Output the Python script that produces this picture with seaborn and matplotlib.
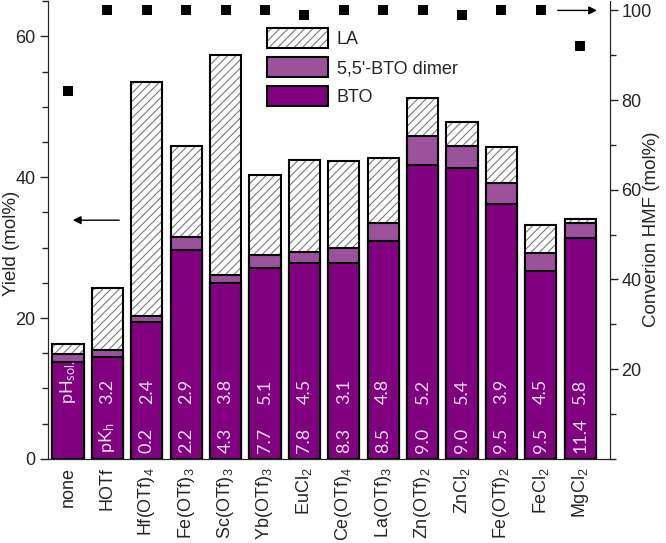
import numpy as np
import pandas as pd
import matplotlib
matplotlib.use('Agg')
import matplotlib.pyplot as plt
from matplotlib.patches import Patch
from matplotlib.ticker import MultipleLocator
import seaborn as sns

# %% data
catalysts = ['none', 'HOTf', 'Hf(OTf)$_4$', 'Fe(OTf)$_3$', 'Sc(OTf)$_3$',
             'Yb(OTf)$_3$', 'EuCl$_2$', 'Ce(OTf)$_4$', 'La(OTf)$_3$',
             'Zn(OTf)$_2$', 'ZnCl$_2$', 'Fe(OTf)$_2$', 'FeCl$_2$', 'MgCl$_2$']
bto = [13.8, 14.5, 19.4, 29.6, 25.0, 27.1, 27.8, 27.8, 30.9, 41.8, 41.3,
       36.2, 26.7, 31.3]
dimer = [1.1, 1.0, 0.9, 1.9, 1.1, 1.8, 1.6, 2.1, 2.6, 4.0, 3.1, 3.0, 2.5, 2.2]
la = [1.4, 8.8, 33.3, 12.9, 31.2, 11.4, 13.0, 12.4, 9.3, 5.5, 3.4, 5.1, 4.0,
      0.5]
conversion = [82, 100, 100, 100, 100, 100, 99, 100, 100, 100, 99, 100, 100, 92]
ph_sol = ['pH$_{sol.}$', '3.2', '2.4', '2.9', '3.8', '5.1', '4.5', '3.1',
          '4.8', '5.2', '5.4', '3.9', '4.5', '5.8']
pkh = ['', 'pK$_h$', '0.2', '2.2', '4.3', '7.7', '7.8', '8.3', '8.5', '9.0',
       '9.0', '9.5', '9.5', '11.4']

df = pd.DataFrame({'cat': catalysts, 'BTO': bto, 'dimer': dimer, 'LA': la,
                   'conv': conversion})
df['bto_dimer'] = df['BTO'] + df['dimer']
df['total'] = df['bto_dimer'] + df['LA']
df['pos'] = np.arange(len(df))

# %% style
sns.set_style('ticks')
plt.rcParams['font.family'] = ['Liberation Sans', 'DejaVu Sans']
plt.rcParams['mathtext.default'] = 'regular'
plt.rcParams['hatch.linewidth'] = 0.8

purple = '#800080'
light_purple = '#9c519c'
hatch_grey = '#7a7a7a'

fig, ax = plt.subplots(figsize=(6.66, 5.43), dpi=100)
fig.subplots_adjust(left=0.072, right=0.916, bottom=0.155, top=0.999)

bar_kw = dict(width=0.79, ax=ax, order=catalysts, saturation=1)
# LA layer: grey hatch, then a black outline on top
sns.barplot(data=df, x='cat', y='total', color='white', hatch='////',
            edgecolor=hatch_grey, linewidth=0, **bar_kw)
sns.barplot(data=df, x='cat', y='total', fill=False, color='black',
            linewidth=1.5, **bar_kw)
sns.barplot(data=df, x='cat', y='bto_dimer', color=light_purple,
            edgecolor='black', linewidth=1.5, **bar_kw)
sns.barplot(data=df, x='cat', y='BTO', color=purple, edgecolor='black',
            linewidth=1.5, **bar_kw)

for i in range(len(df)):
    ax.text(i, 7.8, ph_sol[i], rotation=90, ha='center', va='bottom',
            color='#eadcee', fontsize=13, family='Lato')
    ax.text(i, 0.85, pkh[i], rotation=90, ha='center', va='bottom',
            color='#eadcee', fontsize=13, family='Lato')

ax.set_xlim(-0.51, 13.76)
ax.set_ylim(0, 65.1)
ax.yaxis.set_major_locator(MultipleLocator(20))
ax.yaxis.set_minor_locator(MultipleLocator(5))
ax.tick_params(axis='y', which='major', length=6, width=1, labelsize=13,
               pad=3)
ax.tick_params(axis='y', which='minor', length=4, width=1)
ax.tick_params(axis='x', length=0, labelsize=13, rotation=90, pad=6)
ax.set_xlabel('')
ax.set_ylabel('Yield (mol%)', fontsize=13.5)
ax.yaxis.set_label_coords(-0.05, 0.47)
ax.spines['top'].set_visible(False)

ax.annotate('', xy=(0.05, 33.9), xytext=(1.37, 33.9),
            arrowprops=dict(arrowstyle='-|>', color='black', lw=1,
                            mutation_scale=12))

ax2 = ax.twinx()
sns.scatterplot(data=df, x='pos', y='conv', marker='s', color='black',
                s=55, linewidth=0, ax=ax2)
ax2.set_ylim(0, 102.2)
ax2.yaxis.set_major_locator(MultipleLocator(20))
ax2.yaxis.set_minor_locator(MultipleLocator(10))
ax2.set_yticks([20, 40, 60, 80, 100])
ax2.tick_params(axis='y', which='major', length=6, width=1, labelsize=13,
                pad=2)
ax2.tick_params(axis='y', which='minor', length=4, width=1)
ax2.set_ylabel('Converion HMF (mol%)', fontsize=13.5)
ax2.yaxis.set_label_coords(1.058, 0.5)
ax2.spines['top'].set_visible(False)
ax2.annotate('', xy=(13.5, 100), xytext=(12.36, 100),
             arrowprops=dict(arrowstyle='-|>', color='black', lw=1,
                             mutation_scale=12))

la_handle = (Patch(facecolor='white', edgecolor=hatch_grey, hatch='////',
                   lw=0),
             Patch(fill=False, edgecolor='black', lw=1.5))
handles = [la_handle,
           Patch(facecolor=light_purple, edgecolor='black', lw=1.5),
           Patch(facecolor=purple, edgecolor='black', lw=1.5)]
ax.legend(handles=handles, labels=['LA', "5,5'-BTO dimer", 'BTO'],
          loc='upper left', bbox_to_anchor=(0.36, 0.975),
          frameon=False, fontsize=13, handlelength=3.4, handleheight=1.3,
          labelspacing=0.5, handletextpad=0.5)

fig.savefig('out.png', dpi=100)
